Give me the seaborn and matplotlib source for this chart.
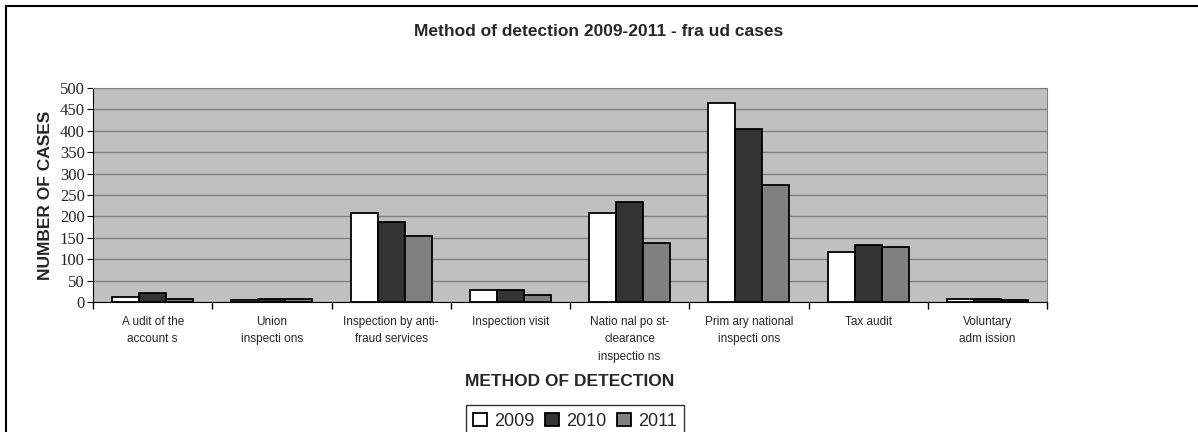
import pandas as pd
import numpy as np
import matplotlib.pyplot as plt
import seaborn as sns
from matplotlib.patches import Rectangle

# ---------------------------------------------------------------------
# Data
# ---------------------------------------------------------------------
methods = [
    "A udit of the\naccount s",
    "Union\ninspecti ons",
    "Inspection by anti-\nfraud services",
    "Inspection visit",
    "Natio nal po st-\nclearance\ninspectio ns",
    "Prim ary national\ninspecti ons",
    "Tax audit",
    "Voluntary\nadm ission",
]
years = ["2009", "2010", "2011"]
cases_2009 = [12, 4, 207, 28, 207, 466, 116, 8]
cases_2010 = [21, 7, 187, 28, 233, 404, 134, 8]
cases_2011 = [7, 7, 154, 16, 137, 274, 128, 4]

df = pd.DataFrame({
    "method": methods * 3,
    "year": np.repeat(years, len(methods)),
    "cases": cases_2009 + cases_2010 + cases_2011,
})

palette = {"2009": "#ffffff", "2010": "#333333", "2011": "#808080"}

sns.set_style("white")
plt.rcParams["font.family"] = ["Liberation Sans", "DejaVu Sans"]

fig = plt.figure(figsize=(11.98, 4.32), dpi=100)
ax = fig.add_axes([93 / 1198, 1 - 302 / 432, (1047 - 93) / 1198, (302 - 88) / 432])

sns.barplot(data=df, x="method", y="cases", hue="year", palette=palette,
            width=0.68, edgecolor="black", linewidth=1.3, saturation=1,
            ax=ax, zorder=3)

ax.set_facecolor("#c0c0c0")
ax.set_ylim(0, 500)
ax.set_xlim(-0.5, len(methods) - 0.5)
ax.set_yticks(range(0, 501, 50))
ax.set_yticklabels([str(v) for v in range(0, 501, 50)],
                   family="Liberation Serif", fontsize=12)
ax.yaxis.grid(True, color="#808080", linewidth=1, zorder=0)
ax.set_axisbelow(True)
for side in ["top", "right"]:
    ax.spines[side].set_color("#808080")
ax.spines["left"].set_color("black")
ax.spines["bottom"].set_color("black")

# category separators as ticks on the x axis
ax.set_xticks(np.arange(-0.5, len(methods) - 0.4, 1), minor=True)
ax.tick_params(axis="x", which="minor", length=5, color="black", width=1, direction="out")
ax.tick_params(axis="x", which="major", length=0, labelsize=8.5, pad=10)
ax.tick_params(axis="y", length=4, color="black", direction="out", pad=2)
ax.xaxis.set_ticks_position("bottom")
ax.yaxis.set_ticks_position("left")
ax.set_xticks(range(len(methods)))
ax.set_xticklabels(methods, va="top", linespacing=1.6)

ax.set_xlabel("METHOD OF DETECTION", fontsize=12.5, fontweight="bold", labelpad=8)
ax.set_ylabel("NUMBER OF CASES", fontsize=12.5, fontweight="bold", labelpad=5)

leg = ax.legend(loc="center", bbox_to_anchor=(575 / 1198, 1 - 421 / 432),
                bbox_transform=fig.transFigure, ncol=3, frameon=True,
                fontsize=13, handlelength=0.75, handleheight=0.75,
                handletextpad=0.4, columnspacing=0.6, borderpad=0.4,
                fancybox=False)
leg.get_frame().set_edgecolor("black")
leg.get_frame().set_linewidth(1)

fig.text(0.5, 1 - 31 / 432, "Method of detection 2009-2011 - fra ud cases",
         ha="center", va="center", fontsize=12.5, fontweight="bold")

# outer chart border (right and bottom edges are cut off in the reference)
fig.patches.append(Rectangle((6 / 1198, -0.1), 1.2, 1 - 6 / 432 + 0.1,
                             transform=fig.transFigure, fill=False,
                             edgecolor="black", linewidth=1.5))

fig.savefig("out.png", dpi=100)
